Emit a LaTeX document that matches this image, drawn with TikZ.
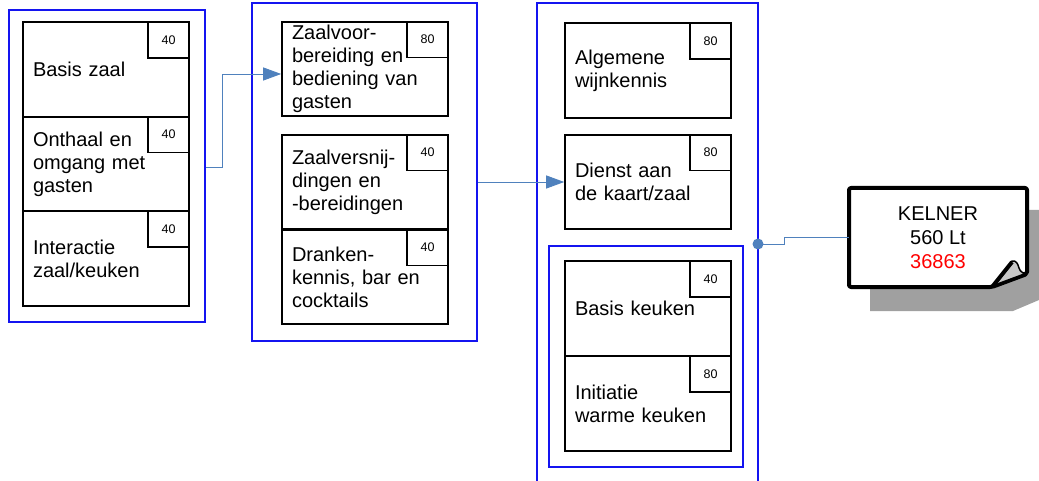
\documentclass[tikz,border=0pt]{standalone}
\usepackage{fontspec}
\setmainfont{Liberation Sans}
\usetikzlibrary{arrows.meta,calc}
\definecolor{grpblue}{HTML}{1414F0}
\definecolor{connblue}{HTML}{4F81BD}
\definecolor{shadowgray}{HTML}{A0A0A0}
\definecolor{foldgray}{HTML}{C8C8C8}
\definecolor{numred}{HTML}{FF0000}
\begin{document}
\begin{tikzpicture}[x=1pt,y=-1pt,
  grp/.style={draw=grpblue,line width=1.6pt,inner sep=0pt},
  modbox/.style={draw=black,line width=1.6pt,minimum width=166pt,minimum height=94.5pt,
    text width=146pt,inner xsep=10pt,inner ysep=2pt,align=left,
    font=\fontsize{20}{23}\selectfont},
  numbox/.style={draw=black,line width=1.4pt,minimum width=41pt,minimum height=36pt,
    inner sep=0pt,anchor=north east,font=\fontsize{12.5}{14}\selectfont},
  conn/.style={draw=connblue,line width=0.9pt},
  arr/.style={-{Triangle[length=18pt,width=13pt]}}
]
\useasboundingbox (0,0) rectangle (1039,481);
\clip (0,0) rectangle (1039,481);

% shadow of KELNER sheet
\fill[shadowgray] (870,210) -- (1039,210) -- (1039,300) -- (1013,311) -- (870,311) -- cycle;

% group 1
\node[grp,minimum width=196pt,minimum height=312pt] (g1) at (107,166) {};
\node[modbox] (b11) at (106,69.5) {Basis zaal};
\node[numbox] (n11) at (b11.north east) {40};
\node[modbox] (b12) at (106,164) {Onthaal en\\omgang met\\gasten};
\node[numbox] (n12) at (b12.north east) {40};
\node[modbox] (b13) at (106,258.5) {Interactie\\zaal/keuken};
\node[numbox] (n13) at (b13.north east) {40};

% group 2
\node[grp,minimum width=225pt,minimum height=338pt] (g2) at (364.5,172) {};
\node[modbox] (b21) at (365,69) {Zaalvoor-\\bereiding en\\bediening van\\gasten};
\node[numbox] (n21) at (b21.north east) {80};
\node[modbox] (b22) at (365,182) {Zaalversnij-\\dingen en\\-bereidingen};
\node[numbox] (n22) at (b22.north east) {40};
\node[modbox] (b23) at (365,277) {Dranken-\\kennis, bar en\\cocktails};
\node[numbox] (n23) at (b23.north east) {40};

% group 3
\node[grp,minimum width=221pt,minimum height=500pt] (g3) at (647.5,253) {};
\node[modbox] (b31) at (648,70.5) {Algemene\\wijnkennis};
\node[numbox] (n31) at (b31.north east) {80};
\node[modbox] (b32) at (648,182) {Dienst aan\\de kaart/zaal};
\node[numbox] (n32) at (b32.north east) {80};
\node[grp,minimum width=194pt,minimum height=221pt] (g3in) at (646,356.5) {};
\node[modbox] (b33) at (648,308.5) {Basis keuken};
\node[numbox] (n33) at (b33.north east) {40};
\node[modbox] (b34) at (648,403.5) {Initiatie\\warme keuken};
\node[numbox] (n34) at (b34.north east) {80};

% KELNER sheet
\filldraw[fill=white,draw=black,line width=4pt,rounded corners=2pt,line join=round]
  (992,287) -- (849,287) -- (849,188) -- (1027,188) -- (1027,274) -- cycle;
\filldraw[fill=foldgray,draw=black,line width=1.5pt,line join=round]
  (992,286) -- (1012,261) .. controls (1016,260) and (1018,264) .. (1019,268)
  .. controls (1020,272) and (1024,274) .. (1027,273) -- cycle;
\draw[line width=4pt] (992,287) -- (1012,262);
\node[minimum width=178pt,minimum height=99pt,inner sep=0pt,align=center,
  font=\fontsize{20}{24}\selectfont] (kel) at (938,237.5)
  {KELNER\\560 Lt\\\textcolor{numred}{36863}};

% connectors
\draw[conn,arr] (g1.east |- 0,167) -- ++(17,0) |- ([yshift=-5pt]b21.west);
\draw[conn,arr] (g2.east |- b32.west) -- (b32.west);
\coordinate (dot) at (758,244);
\draw[conn] (dot) -- ++(26,0) |- (kel.west);
\fill[connblue] (dot) circle (5.5pt);
\end{tikzpicture}
\end{document}
